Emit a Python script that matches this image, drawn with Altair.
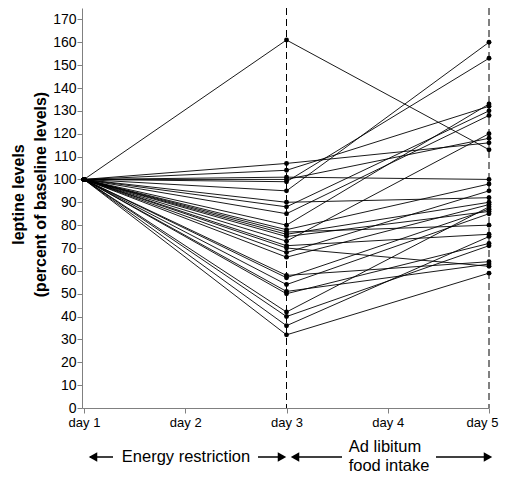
import altair as alt
import pandas as pd

# ---- data ----
baseline = 100
day3_values = [161, 107, 104, 101, 100, 99, 95, 90, 88, 85, 80, 78, 77, 76, 75,
               73, 71, 70, 68, 66, 58, 57, 54, 51, 50, 42, 40, 36, 32]
day5_values = [113, 116, 132, 100, 118, 153, 160, 92, 130, 128, 133, 98, 80, 90, 86,
               120, 76, 62, 95, 89, 64, 87, 85, 63, 72, 88, 71, 75, 59]
tick_days = [1, 2, 3, 4, 5]
y_ticks = list(range(0, 171, 10))
dashed_days = [3, 5]

rows = []
for i, (d3, d5) in enumerate(zip(day3_values, day5_values)):
    rows.append({"subject": i, "day": 1, "value": baseline})
    rows.append({"subject": i, "day": 3, "value": d3})
    rows.append({"subject": i, "day": 5, "value": d5})
df = pd.DataFrame(rows)

W, H = 407, 400
FONT = "Liberation Sans"

x_scale = alt.Scale(domain=[0.98, 5], nice=False, zero=False)
y_scale = alt.Scale(domain=[0, 175], nice=False)

x_axis = alt.Axis(values=tick_days, labelExpr="'day ' + datum.value", title=None,
                  grid=False, domainColor="#808080", tickColor="#808080", tickSize=5,
                  labelFontSize=13, labelColor="black", labelFont=FONT, labelPadding=3,
                  labelFlush=False, labelOverlap=False,
                  labelOffset=alt.ExprRef("datum.value == 5 ? -7 : 0"))
y_axis = alt.Axis(values=y_ticks, title=["leptine levels", "(percent of baseline levels)"],
                  grid=False, domainColor="#808080", tickColor="#808080", tickSize=5,
                  labelFontSize=14, labelColor="black", labelFont=FONT, labelPadding=1,
                  labelOverlap=False,
                  titleFont=FONT, titleFontSize=16, titleFontWeight="bold",
                  titleColor="black", titleLineHeight=22, titlePadding=4, titleY=186)

X = alt.X("day:Q", scale=x_scale, axis=x_axis)
Y = alt.Y("value:Q", scale=y_scale, axis=y_axis)

lines = alt.Chart(df).mark_line(color="black", strokeWidth=0.9).encode(
    x=X, y=Y, detail="subject:N",
)
points = alt.Chart(df).mark_circle(color="black", size=24, opacity=1).encode(
    x=X, y=Y,
)
dashes = alt.Chart(pd.DataFrame({"day": dashed_days})).mark_rule(
    color="black", strokeWidth=1, strokeDash=[7, 4]
).encode(x=X, y=alt.value(0), y2=alt.value(H))

one = alt.Data(values=[{"a": 1}])
AY = 449


def hline(x1, x2, y):
    return alt.Chart(one).mark_rule(color="black", strokeWidth=1.5).encode(
        x=alt.value(x1), x2=alt.value(x2), y=alt.value(y))


def head(x, y, shape):
    return alt.Chart(one).mark_point(shape=shape, filled=True, color="black",
                                     size=95, opacity=1).encode(
        x=alt.value(x), y=alt.value(y))


def label(text, x, y):
    return alt.Chart(one).mark_text(text=text, font=FONT, fontSize=16.5, color="black",
                                    align="center", baseline="middle").encode(
        x=alt.value(x), y=alt.value(y))


annots = [
    hline(8, 31, AY), head(11, AY, "triangle-left"),
    hline(176, 202, AY), head(200, AY, "triangle-right"),
    hline(211, 260, AY), head(213, AY, "triangle-left"),
    hline(354, 408, AY), head(406, AY, "triangle-right"),
    label("Energy restriction", 104, AY),
    label("Ad libitum", 303, 439),
    label("food intake", 307, 458),
]

chart = alt.layer(dashes, lines, points, *annots).properties(
    width=W, height=H,
    autosize=alt.AutoSizeParams(type="none"),
    padding={"left": 74, "top": 0, "right": 10, "bottom": 71},
).configure_view(stroke=None)

chart.save("out.html", embed_options={"renderer": "svg", "actions": False})
